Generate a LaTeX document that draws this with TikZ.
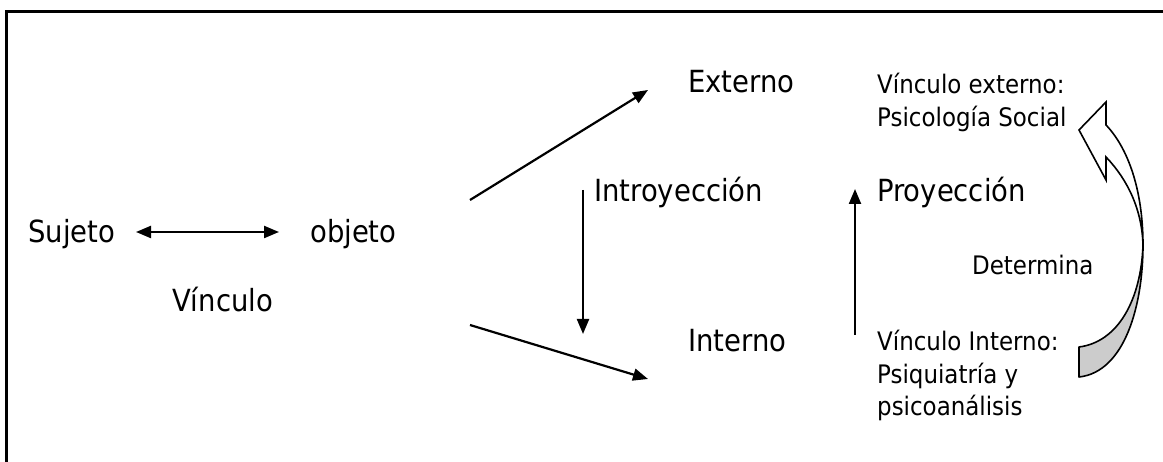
\documentclass[tikz,border=0pt]{standalone}
\usepackage{fontspec}
\setmainfont{DejaVu Sans}[FakeStretch=0.9]
\usetikzlibrary{arrows.meta}
\tikzset{
  big/.style={anchor=base west, inner sep=0pt, font=\fontsize{30.5}{33}\selectfont},
  small/.style={anchor=base west, inner sep=0pt, align=left, font=\fontsize{25.5}{33}\selectfont},
  arr/.style={line width=2.2pt, -{Triangle[length=15pt,width=12pt]}},
  darr/.style={line width=2.2pt, {Triangle[length=15pt,width=12pt]}-{Triangle[length=15pt,width=12pt]}},
}
\begin{document}
\begin{tikzpicture}[x=1pt,y=-1pt]
\useasboundingbox (0,0) rectangle (1163,462);
% frame
\draw[line width=3pt] (6,470) -- (6,12) -- (1170,12);

\node[big] (suj) at (28,243) {Sujeto};
\node[big] (obj) at (310,243) {objeto};
\node[big] (vin) at (172,312) {Vínculo};
\node[big] (ext) at (688,93) {Externo};
\node[big] (int) at (688,352) {Interno};
\node[big] (intro) at (594,202) {Introyección};
\node[big] (proy) at (877,202) {Proyección};
% multi-line nodes: base anchor is the baseline of the last line
\node[small] (vext) at (877,127) {Vínculo externo:\\Psicología Social};
\node[small] (vint) at (877,416) {Vínculo Interno:\\Psiquiatría y\\psicoanálisis};
\node[small] (det) at (972,275) {Determina};

\coordinate (d1) at (136,232);
\coordinate (d2) at (279,232);
\draw[darr] (d1) -- (d2);

\coordinate (a0) at (470,200);
\coordinate (a1) at (648,90);
\draw[arr] (a0) -- (a1);
\coordinate (b0) at (470,325);
\coordinate (b1) at (648,379);
\draw[arr] (b0) -- (b1);

\coordinate (i0) at (583,190);
\coordinate (i1) at (583,334);
\draw[arr] (i0) -- (i1);

\coordinate (p0) at (855,335);
\coordinate (p1) at (855,189);
\draw[arr] (p0) -- (p1);

% curved arrow
\coordinate (cx) at (1143,245);
\filldraw[fill=black!20, line width=1.6pt, line join=round]
  (1079,377) .. controls (1125,372) and (1143,305) .. (cx)
  .. controls (1141,300) and (1118,342) .. (1079,347) -- cycle;
\filldraw[fill=white, line width=1.6pt, line join=miter]
  (cx) .. controls (1143,190) and (1128,148) .. (1106,125)
  -- (1106,102) -- (1079,130) -- (1106,180) -- (1106,157)
  .. controls (1128,180) and (1142,210) .. (cx);
\end{tikzpicture}
\end{document}
